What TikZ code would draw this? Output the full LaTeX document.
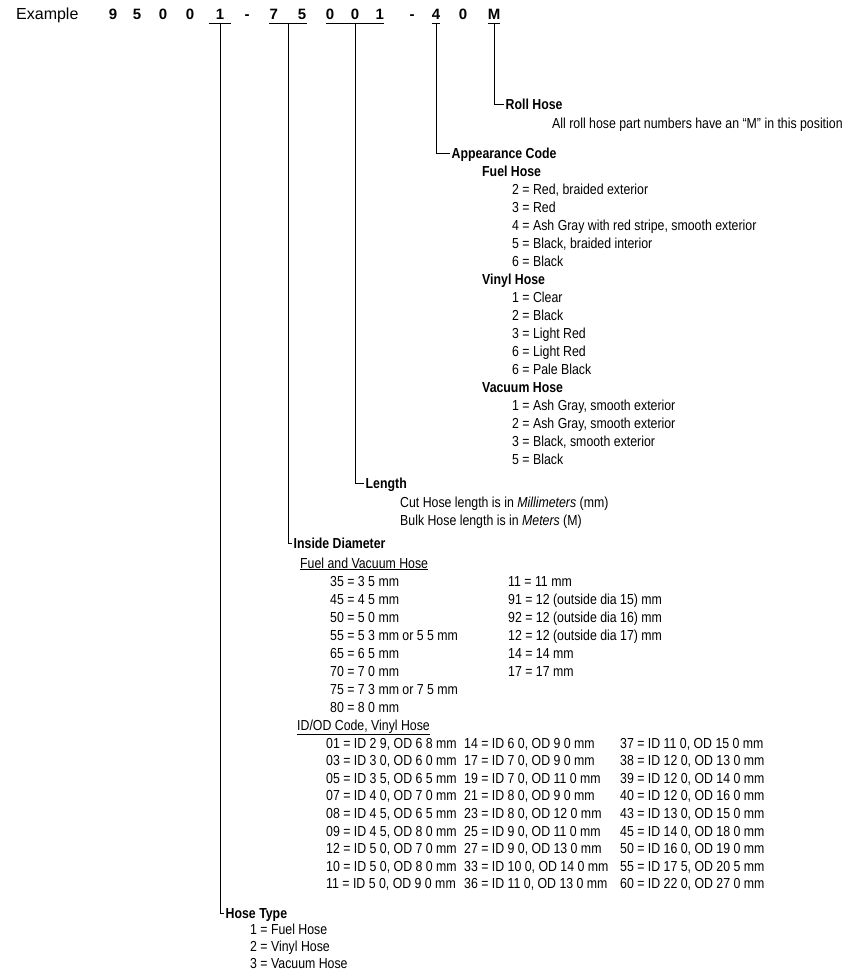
\documentclass[tikz,border=0pt]{standalone}
\usepackage{fontspec}
\setmainfont{Liberation Sans}[FakeStretch=0.85]
\newfontfamily\hdrfont{Liberation Sans}
\usetikzlibrary{positioning}

\begin{document}
\begin{tikzpicture}[x=1pt, y=-1pt,
  txt/.style={anchor=base west, inner sep=0pt, font=\fontsize{14.5}{18}\selectfont},
  head/.style={txt, font=\fontsize{14.5}{18}\selectfont\bfseries, inner xsep=1.5pt, text height=10pt, text depth=0pt},
  num/.style={anchor=base, inner sep=0pt, font=\hdrfont\fontsize{15}{18}\selectfont\bfseries},
  lead/.style={line width=1pt}]
\useasboundingbox (0,0) rectangle (854,974);

% part number
\node[txt, font=\hdrfont\fontsize{16}{18}\selectfont] (ex) at (16,20) {Example};
\foreach \n/\c/\x in {a/9/113, b/5/137, c/0/163, d/0/190, e/-/247, f/-/412, g/0/463}
  \node[num] (n\n) at (\x,20) {\c};
\node[num, minimum width=22pt] (type) at (220,20) {1};
\node[num] (dia) at (288,20) {7\hspace{20pt}5};
\node[num] (len) at (355,20) {0\hspace{16.5pt}0\hspace{16.5pt}1};
\node[num] (app) at (436,20) {4};
\node[num] (roll) at (494,20) {M};
\foreach \g in {type, dia, len, app, roll}
  \draw[lead] ([yshift=-3pt]\g.south west) -- ([yshift=-3pt]\g.south east);

% roll hose
\node[head] (rollhd) at (504,109) {Roll Hose};
\node[txt] (rolltx) at (552,128) {All roll hose part numbers have an ``M'' in this position};

% appearance code
\node[head] (apphd) at (450,158) {Appearance Code};
\foreach \x/\t [count=\i] in {
  482/{\bfseries Fuel Hose}, 512/{2 = Red, braided exterior}, 512/{3 = Red},
  512/{4 = Ash Gray with red stripe, smooth exterior}, 512/{5 = Black, braided interior}, 512/{6 = Black},
  482/{\bfseries Vinyl Hose}, 512/{1 = Clear}, 512/{2 = Black}, 512/{3 = Light Red}, 512/{6 = Light Red}, 512/{6 = Pale Black},
  482/{\bfseries Vacuum Hose}, 512/{1 = Ash Gray, smooth exterior}, 512/{2 = Ash Gray, smooth exterior},
  512/{3 = Black, smooth exterior}, 512/{5 = Black}}
  \node[txt] (app\i) at (\x,158+18*\i) {\t};

% length
\node[head] (lenhd) at (364,488) {Length};
\node[txt] (cut) at (400,507) {Cut Hose length is in \textit{Millimeters} (mm)};
\node[txt] (bulk) at (400,525) {Bulk Hose length is in \textit{Meters} (M)};

% inside diameter
\node[head] (diahd) at (292,548) {Inside Diameter};
\node[txt] (fvh) at (300,568) {\underline{Fuel and Vacuum Hose}};
\foreach \t [count=\i from 0] in {35 = 3 5 mm, 45 = 4 5 mm, 50 = 5 0 mm, 55 = 5 3 mm or 5 5 mm,
  65 = 6 5 mm, 70 = 7 0 mm, 75 = 7 3 mm or 7 5 mm, 80 = 8 0 mm}
  \node[txt] (fl\i) at (330,586+18*\i) {\t};
\foreach \t [count=\i from 0] in {11 = 11 mm, 91 = 12 (outside dia  15) mm, 92 = 12 (outside dia  16) mm,
  12 = 12 (outside dia  17) mm, 14 = 14 mm, 17 = 17 mm}
  \node[txt] (fr\i) at (508,586+18*\i) {\t};
\node[txt] (vh) at (297,730) {\underline{ID/OD Code, Vinyl Hose}};
\foreach \a/\b/\c [count=\i from 0] in {
  {01 = ID 2 9, OD 6 8 mm}/{14 = ID 6 0, OD 9 0 mm}/{37 = ID 11 0, OD 15 0 mm},
  {03 = ID 3 0, OD 6 0 mm}/{17 = ID 7 0, OD 9 0 mm}/{38 = ID 12 0, OD 13 0 mm},
  {05 = ID 3 5, OD 6 5 mm}/{19 = ID 7 0, OD 11 0 mm}/{39 = ID 12 0, OD 14 0 mm},
  {07 = ID 4 0, OD 7 0 mm}/{21 = ID 8 0, OD 9 0 mm}/{40 = ID 12 0, OD 16 0 mm},
  {08 = ID 4 5, OD 6 5 mm}/{23 = ID 8 0, OD 12 0 mm}/{43 = ID 13 0, OD 15 0 mm},
  {09 = ID 4 5, OD 8 0 mm}/{25 = ID 9 0, OD 11 0 mm}/{45 = ID 14 0, OD 18 0 mm},
  {12 = ID 5 0, OD 7 0 mm}/{27 = ID 9 0, OD 13 0 mm}/{50 = ID 16 0, OD 19 0 mm},
  {10 = ID 5 0, OD 8 0 mm}/{33 = ID 10 0, OD 14 0 mm}/{55 = ID 17 5, OD 20 5 mm},
  {11 = ID 5 0, OD 9 0 mm}/{36 = ID 11 0, OD 13 0 mm}/{60 = ID 22 0, OD 27 0 mm}} {
  \node[txt] (va\i) at (326,748+17.6*\i) {\a};
  \node[txt] (vb\i) at (464,748+17.6*\i) {\b};
  \node[txt] (vc\i) at (620,748+17.6*\i) {\c};
}

% hose type
\node[head] (typehd) at (224,918) {Hose Type};
\foreach \t [count=\i from 0] in {1 = Fuel Hose, 2 = Vinyl Hose, 3 = Vacuum Hose}
  \node[txt] (ht\i) at (250,934+17*\i) {\t};

\foreach \a/\b in {roll/rollhd, app/apphd, len/lenhd, dia/diahd, type/typehd}
  \draw[lead] ([yshift=-3pt]\a.south) |- (\b.west);
\end{tikzpicture}
\end{document}
